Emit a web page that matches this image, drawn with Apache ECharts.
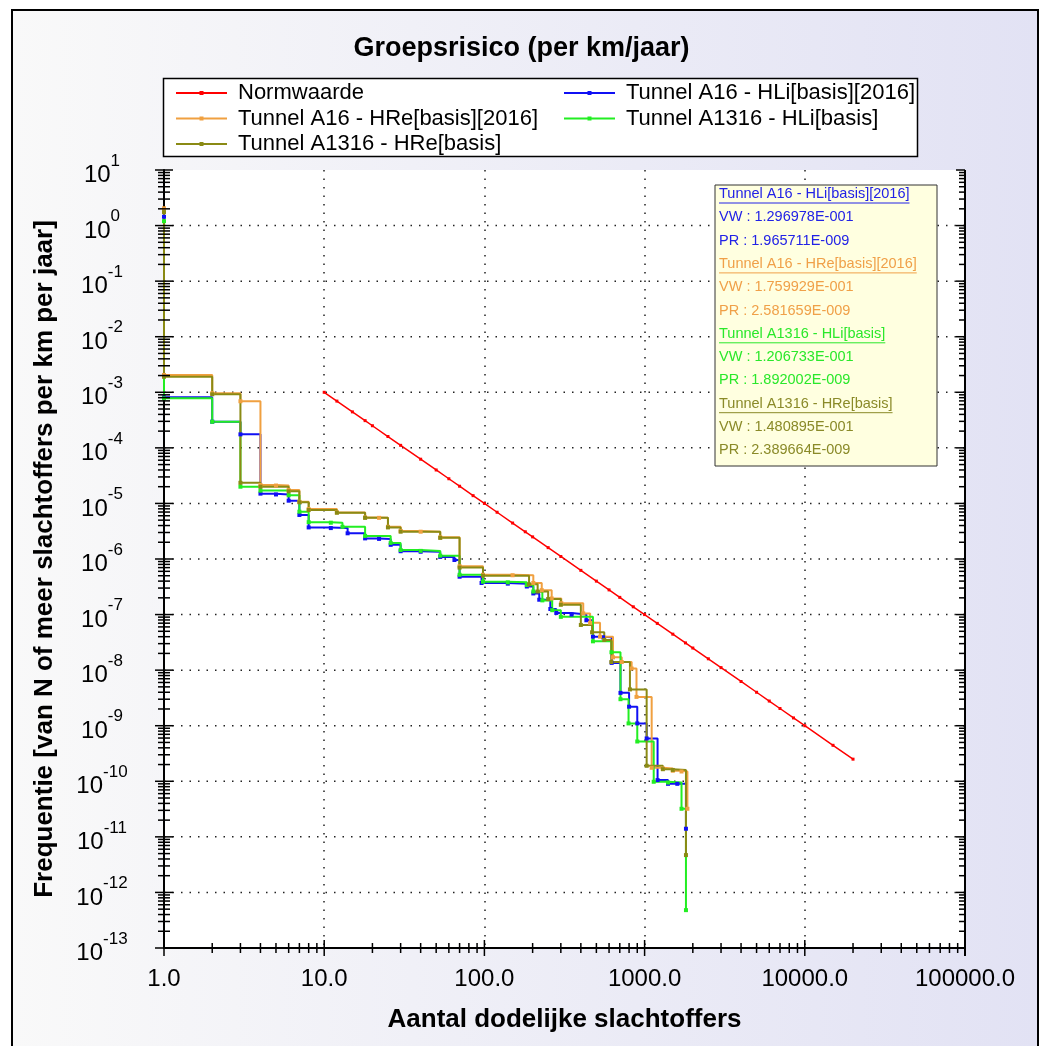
<!DOCTYPE html>
<html><head><meta charset="utf-8">
<script src="https://cdn.jsdelivr.net/npm/echarts@6/dist/echarts.min.js"></script>
<style>html,body{margin:0;padding:0;background:#fff;}#c{width:1043px;height:1046px;}</style>
</head><body><div id="c"></div>
<script>
const FONT = "'Liberation Sans', Arial, sans-serif";

// ---- data ----
const seriesNames = ['Normwaarde', 'Tunnel A16 - HLi[basis][2016]', 'Tunnel A16 - HRe[basis][2016]', 'Tunnel A1316 - HLi[basis]', 'Tunnel A1316 - HRe[basis]'];
const seriesColors = ['#ff0000', '#1010f4', '#f0a040', '#22ee22', '#8a8a14'];

const normwaarde = [[10,1e-3],[12,6.94e-4],[15,4.44e-4],[18,3.09e-4],[20,2.5e-4],[25,1.6e-4],[30,1.11e-4],[40,6.25e-5],[50,4e-5],[60,2.78e-5],[70,2.04e-5],[85,1.38e-5],[100,1e-5],[120,6.94e-6],[150,4.44e-6],[180,3.09e-6],[200,2.5e-6],[250,1.6e-6],[300,1.11e-6],[400,6.25e-7],[500,4e-7],[600,2.78e-7],[700,2.04e-7],[850,1.38e-7],[1000,1e-7],[1200,6.94e-8],[1500,4.44e-8],[1800,3.09e-8],[2000,2.5e-8],[2500,1.6e-8],[3000,1.11e-8],[4000,6.25e-9],[5000,4e-9],[6000,2.78e-9],[7000,2.04e-9],[8500,1.38e-9],[10000,1e-9],[15000,4.44e-10],[20000,2.5e-10]];

const a16HLi = [[1,1.44],[1,8.1e-4],[2,2.95e-4],[3,1.75e-4],[4,1.5e-5],[5,1.45e-5],[6,1.12e-5],[7,6.2e-6],[8,3.7e-6],[11,3.6e-6],[14,2.9e-6],[18,2.35e-6],[22,2.3e-6],[26,1.8e-6],[30,1.38e-6],[40,1.35e-6],[53,1.09e-6],[65,9.6e-7],[70,4.8e-7],[96,3.7e-7],[140,3.6e-7],[184,3.2e-7],[202,2.4e-7],[220,1.85e-7],[258,1.26e-7],[281,1.07e-7],[350,1.0e-7],[433,7.9e-8],[476,4.0e-8],[550,3.9e-8],[623,1.35e-8],[707,3.9e-9],[800,2.2e-9],[900,1.1e-9],[1030,5.9e-10],[1205,1.05e-10],[1400,9e-11],[1600,9e-11],[1812,1.4e-11]];

const a16HRe = [[1,2.05],[1,2.05e-3],[2,9.6e-4],[3,6.9e-4],[4,2.15e-5],[5,2.1e-5],[6,1.74e-5],[7,1.07e-5],[8,7.9e-6],[12,6.9e-6],[18,5.6e-6],[22,5.5e-6],[25,3.8e-6],[30,3.2e-6],[40,3.1e-6],[53,2.45e-6],[70,7.4e-7],[98,5.2e-7],[150,5.1e-7],[202,3.7e-7],[228,2.75e-7],[263,1.95e-7],[302,1.6e-7],[414,1.05e-7],[457,7.1e-8],[527,4.0e-8],[635,1.7e-8],[720,1.4e-8],[830,1.07e-8],[890,3.3e-9],[1107,1.75e-10],[1300,1.7e-10],[1500,1.55e-10],[1700,1.5e-10],[1850,3.2e-11]];

const a1316HLi = [[1,1.2],[1,7.8e-4],[2,2.95e-4],[3,2.0e-5],[4,1.7e-5],[6,1.4e-5],[7,7.1e-6],[8,4.6e-6],[11,4.5e-6],[13,3.8e-6],[18,2.6e-6],[26,1.95e-6],[30,1.45e-6],[40,1.4e-6],[53,1.15e-6],[70,5.2e-7],[98,3.9e-7],[140,3.8e-7],[184,3.4e-7],[202,2.6e-7],[230,1.8e-7],[265,1.2e-7],[300,9.1e-8],[476,3.3e-8],[621,2.1e-8],[707,3.0e-9],[794,1.1e-9],[900,5.2e-10],[1140,9.8e-11],[1400,9.5e-11],[1700,3.2e-11],[1812,4.8e-13]];

const a1316HRe = [[1,1.75],[1,1.9e-3],[2,9.2e-4],[3,2.35e-5],[4,2.0e-5],[6,1.65e-5],[7,1.05e-5],[8,7.6e-6],[12,6.8e-6],[18,5.5e-6],[25,3.7e-6],[30,3.1e-6],[53,2.4e-6],[70,7.0e-7],[98,5.0e-7],[190,3.5e-7],[215,2.6e-7],[250,1.9e-7],[300,1.5e-7],[400,6.5e-8],[470,4.8e-8],[560,3.5e-8],[620,1.4e-8],[810,4.5e-9],[1030,1.9e-10],[1300,1.65e-10],[1500,1.6e-10],[1812,4.7e-12]];

const infoNames = ['Tunnel A16 - HLi[basis][2016]', 'Tunnel A16 - HRe[basis][2016]', 'Tunnel A1316 - HLi[basis]', 'Tunnel A1316 - HRe[basis]'];
const infoVW = ['1.296978E-001', '1.759929E-001', '1.206733E-001', '1.480895E-001'];
const infoPR = ['1.965711E-009', '2.581659E-009', '1.892002E-009', '2.389664E-009'];
const infoColors = ['#2222e6', '#f0a048', '#2ae82a', '#8a8a28'];

// axis ticks
const X_MIN = 1, X_MAX = 100000, Y_MIN = 1e-13, Y_MAX = 10;
const xDecades = [1, 10, 100, 1000, 10000, 100000];
const yDecades = [1e1, 1e0, 1e-1, 1e-2, 1e-3, 1e-4, 1e-5, 1e-6, 1e-7, 1e-8, 1e-9, 1e-10, 1e-11, 1e-12, 1e-13];
const minorMult = [2, 3, 4, 5, 6, 7, 8, 9];
const xMinor = [];
xDecades.slice(0, -1).forEach(d => minorMult.forEach(m => xMinor.push(d * m)));
const yMinor = [];
yDecades.slice(1).forEach(d => minorMult.forEach(m => yMinor.push(d * m)));
const yGrid = yDecades.slice(1, -1);

// ---- chart ----
const chart = echarts.init(document.getElementById('c'), null, {renderer: 'canvas'});

function tickSeries(values, side, lenA, lenB) {
  return {
    type: 'custom', silent: true, clip: false, z: 6,
    data: values.map(v => side === 'x' ? [v, Y_MIN] : [side === 'yR' ? X_MAX : X_MIN, v]),
    renderItem: (params, api) => {
      const p = api.coord([api.value(0), api.value(1)]);
      let shape;
      if (side === 'x') shape = {x1: p[0], y1: p[1] - lenA, x2: p[0], y2: p[1] + lenB};
      else if (side === 'yL') shape = {x1: p[0] - lenB, y1: p[1], x2: p[0] + lenA, y2: p[1]};
      else shape = {x1: p[0] - lenA, y1: p[1], x2: p[0], y2: p[1]};
      return {type: 'line', shape, style: {stroke: '#000', lineWidth: 1.5}};
    }
  };
}

const gridLineSeries = {
  type: 'custom', silent: true, clip: false, z: 1,
  data: yGrid.map(v => [X_MIN, v]),
  renderItem: (params, api) => {
    const a = api.coord([X_MIN, api.value(1)]);
    const b = api.coord([X_MAX, api.value(1)]);
    return {type: 'line', shape: {x1: a[0], y1: a[1], x2: b[0], y2: b[1]}, style: {stroke: '#222', lineWidth: 1.5, lineDash: [1.5, 7]}};
  }
};

const yLabelSeries = {
  type: 'custom', silent: true, clip: false, z: 6,
  data: yDecades.map(v => [X_MIN, v]),
  renderItem: (params, api) => {
    const v = yDecades[params.dataIndex];
    const p = api.coord([X_MIN, v]);
    const exp = Math.round(Math.log10(v));
    return {type: 'text', x: p[0] - 62, y: p[1], style: {
      text: '{b|10}{e|' + exp + '}', align: 'center', verticalAlign: 'middle',
      rich: {
        b: {fontSize: 24, fontFamily: FONT, lineHeight: 35, verticalAlign: 'bottom', fill: '#000'},
        e: {fontSize: 17, fontFamily: FONT, lineHeight: 17, verticalAlign: 'top', fill: '#000'}
      }
    }};
  }
};

const rightAxisSeries = {
  type: 'custom', silent: true, clip: false, z: 6,
  data: [[X_MAX, Y_MIN]],
  renderItem: (params, api) => {
    const a = api.coord([X_MAX, Y_MIN]);
    const b = api.coord([X_MAX, Y_MAX]);
    return {type: 'line', shape: {x1: a[0], y1: a[1] + 8, x2: b[0], y2: b[1]}, style: {stroke: '#000', lineWidth: 2}};
  }
};

function lineSeries(i, data, width, size) {
  return {
    name: seriesNames[i], type: 'line', data, z: 3,
    step: i === 0 ? false : 'end',
    symbol: 'rect', symbolSize: size, showSymbol: true,
    lineStyle: {color: seriesColors[i], width},
    itemStyle: {color: seriesColors[i]},
    emphasis: {disabled: true}, animation: false
  };
}

// info box
const measureCtx = document.createElement('canvas').getContext('2d');
const INFO_FONT_SIZE = 14.5;
measureCtx.font = INFO_FONT_SIZE + 'px ' + FONT;
const infoEls = [];
infoEls.push({type: 'rect', z: 10, shape: {x: 715, y: 185, width: 222, height: 281}, style: {fill: '#ffffe0', stroke: '#333', lineWidth: 1}});
infoNames.forEach((n, i) => {
  const y0 = 194 + i * 3 * 23.3;
  const rows = [n, 'VW : ' + infoVW[i], 'PR : ' + infoPR[i]];
  rows.forEach((t, r) => {
    infoEls.push({type: 'text', z: 11, x: 719, y: y0 + r * 23.3, style: {text: t, fill: infoColors[i], fontSize: INFO_FONT_SIZE, fontFamily: FONT, verticalAlign: 'middle', align: 'left'}});
  });
  const w = measureCtx.measureText(n).width;
  infoEls.push({type: 'line', z: 11, shape: {x1: 719, y1: y0 + 9, x2: 719 + w, y2: y0 + 9}, style: {stroke: infoColors[i], lineWidth: 1}});
});

const legendCommon = {
  orient: 'vertical', top: 77, itemWidth: 51, itemHeight: 5, itemGap: 3.5,
  selectedMode: false,
  textStyle: {fontSize: 22, fontFamily: FONT, color: '#000', lineHeight: 22, padding: [0, 0, 0, 6]}
};

const option = {
  animation: false,
  title: {text: 'Groepsrisico (per km/jaar)', left: 'center', top: 30,
    textStyle: {fontSize: 27, fontWeight: 'bold', fontFamily: FONT, color: '#000', lineHeight: 27}},
  graphic: {elements: [
    {type: 'rect', z: -20, shape: {x: 12, y: 10, width: 1026, height: 1042},
      style: {fill: new echarts.graphic.LinearGradient(0, 0, 1, 0, [{offset: 0, color: '#f9f9f9'}, {offset: 1, color: '#e2e2f4'}]), stroke: '#000', lineWidth: 2}},
    {type: 'rect', z: -19, shape: {x: 164, y: 170, width: 801, height: 778}, style: {fill: '#ffffff'}},
    {type: 'rect', z: -18, shape: {x: 163.5, y: 78.5, width: 754, height: 78}, style: {fill: '#ffffff', stroke: '#000', lineWidth: 1.5}}
  ].concat(infoEls)},
  legend: [
    Object.assign({}, legendCommon, {left: 170, data: [seriesNames[0], seriesNames[2], seriesNames[4]]}),
    Object.assign({}, legendCommon, {left: 558, data: [seriesNames[1], seriesNames[3]]})
  ],
  grid: {left: 164, top: 170, width: 801, height: 778, containLabel: false},
  xAxis: {
    type: 'log', logBase: 10, min: X_MIN, max: X_MAX,
    name: 'Aantal dodelijke slachtoffers', nameLocation: 'middle', nameGap: 59,
    nameTextStyle: {fontSize: 26, fontWeight: 'bold', fontFamily: FONT, color: '#000'},
    axisLine: {show: true, lineStyle: {color: '#000', width: 2}},
    axisTick: {show: false},
    axisLabel: {fontSize: 24, fontFamily: FONT, color: '#000', margin: 19,
      formatter: v => Number(v).toFixed(1)},
    splitLine: {show: true, showMinLine: false, showMaxLine: false, lineStyle: {color: '#222', width: 1.5, type: [1.5, 7]}}
  },
  yAxis: {
    type: 'log', logBase: 10, min: Y_MIN, max: Y_MAX,
    name: 'Frequentie [van N of meer slachtoffers per km per jaar]', nameLocation: 'middle', nameGap: 106,
    nameTextStyle: {fontSize: 26, fontWeight: 'bold', fontFamily: FONT, color: '#000'},
    axisLine: {show: true, lineStyle: {color: '#000', width: 2}},
    axisTick: {show: false}, axisLabel: {show: false}, splitLine: {show: false}
  },
  series: [
    gridLineSeries,
    lineSeries(0, normwaarde, 1.5, 3),
    lineSeries(1, a16HLi, 2, 4),
    lineSeries(2, a16HRe, 2, 4),
    lineSeries(3, a1316HLi, 2, 4),
    lineSeries(4, a1316HRe, 2, 4),
    tickSeries(xDecades, 'x', 8, 8),
    tickSeries(xMinor, 'x', 5, 5),
    tickSeries(yDecades, 'yL', 9, 9),
    tickSeries(yMinor, 'yL', 6, 6),
    tickSeries(yDecades, 'yR', 9, 0),
    tickSeries(yMinor, 'yR', 6, 0),
    rightAxisSeries,
    yLabelSeries
  ]
};
chart.setOption(option);
</script></body></html>
